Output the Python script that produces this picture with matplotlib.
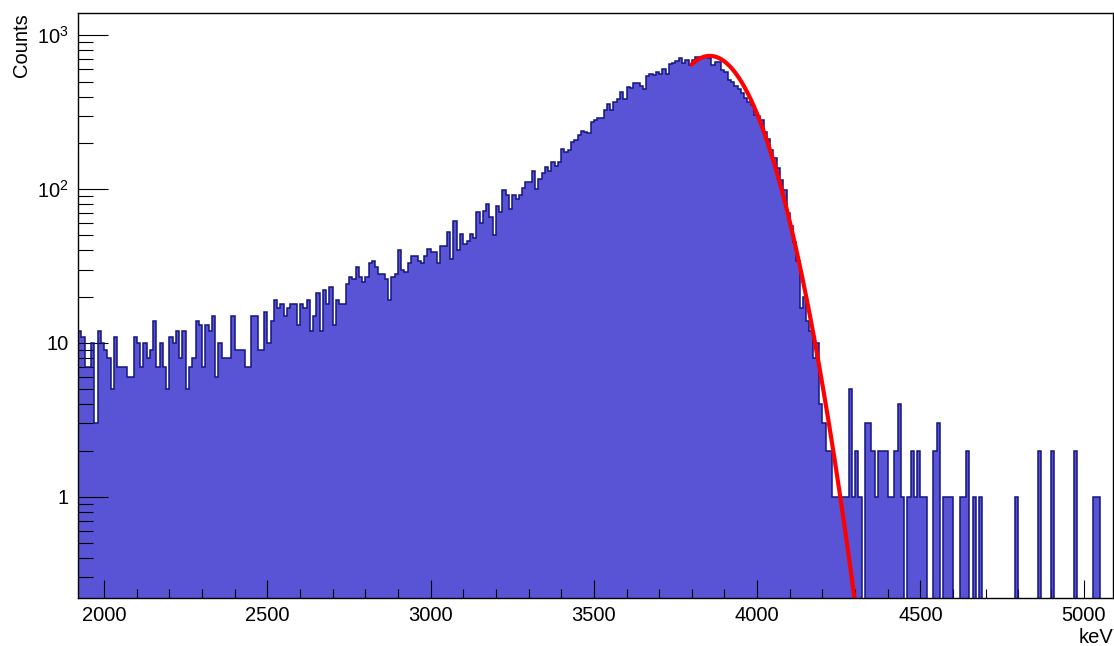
import numpy as np
import matplotlib
matplotlib.use("Agg")
import matplotlib.pyplot as plt
from matplotlib.ticker import MultipleLocator, LogLocator, FixedLocator, FuncFormatter, NullFormatter

plt.rcParams['font.family'] = ['Liberation Sans', 'DejaVu Sans']
plt.rcParams['mathtext.fontset'] = 'custom'
plt.rcParams['mathtext.rm'] = 'Liberation Sans'

# binning of the spectrum (keV)
bin_start = 1920
bin_width = 10
n_bins = 317

# counts per bin
counts_flat = [12, 11, 7, 7, 10, 3, 12, 10, 9, 8, 5, 11, 7, 7, 7, 6, 6, 11, 10, 7,
               10, 8, 9, 14, 7, 10, 7, 5, 11, 10, 12, 8, 12, 5, 7, 8, 14, 13, 7, 13,
               12, 15, 6, 10, 8, 8, 8, 15, 9, 9, 9, 7]
counts_slope = [7, 15, 15, 9, 9, 16, 10, 14, 19, 17, 18, 15, 17, 18, 18, 13, 18, 17, 19, 12,
                15, 21, 12, 22, 18, 23, 13, 19, 18, 18, 24, 27, 26, 31, 27, 25, 27, 33, 34, 31,
                28, 28, 26, 19, 27, 28, 40, 30, 29, 33, 37, 37, 34]
counts_rise = [33, 37, 41, 39, 39, 33, 43, 43, 53, 35, 62, 40, 51, 44, 46, 51, 48, 71, 60, 72,
               80, 66, 50, 78, 71, 98, 92, 74, 92, 86, 92, 101, 111, 111, 132, 100, 116, 127, 140, 132,
               150, 142, 150, 182, 175, 180, 204, 209, 225, 240, 236, 230, 275, 280, 288, 288]
counts_peak = [327, 358, 327, 371, 385, 430, 385, 464, 453, 488, 488, 470, 446, 545, 561, 553, 581, 561, 602, 561,
               651, 664, 681, 709, 664, 692, 641, 692, 726, 720, 726, 731, 709, 641, 672, 672, 594, 580, 513]
counts_edge = [500, 470, 446, 420, 390, 370, 353, 304, 300, 282, 234, 211, 180, 159, 137, 115, 99, 70, 58, 45,
               34, 17, 20, 14, 12, 8, 10, 4, 3, 2, 2]
counts_tail = [1, 1, 1, 1, 1, 5, 1, 2, 1, 0, 3, 3, 2, 1, 2, 2, 2, 1, 1, 2,
               4, 1, 0, 1, 2, 1, 2, 1, 1, 0, 0, 2, 3, 0, 1, 1, 1, 0, 0, 1,
               1, 2, 0, 1, 0, 1, 0, 0, 0, 0, 0, 0, 0, 0, 0, 0, 1, 0, 0, 0,
               0, 0, 0, 2, 0, 0, 0, 2, 0, 0, 0, 0, 0, 0, 2, 0, 0, 0, 0, 0,
               1, 1, 0, 0, 0, 0]

# gaussian fit drawn on top of the peak
fit_amp = 735.0
fit_mean = 3855.0
fit_sigma = 110.0
fit_lo, fit_hi = 3800.0, 4400.0

fill_color = '#5953d6'
edge_color = '#15157e'


def main():
    counts = np.array(counts_flat + counts_slope + counts_rise + counts_peak
                      + counts_edge + counts_tail, dtype=float)
    assert len(counts) == n_bins
    edges = bin_start + bin_width * np.arange(n_bins + 1)

    floor = 1e-3  # empty bins drop below the axis
    vals = np.where(counts > 0, counts, floor)

    fig = plt.figure(figsize=(11.14, 6.46), dpi=100)
    ax = fig.add_axes([78 / 1114, 1 - 598 / 646, (1113 - 78) / 1114, (598 - 13.3) / 646])

    ax.stairs(vals, edges, baseline=floor, fill=True, color=fill_color, lw=0, zorder=1)
    ax.stairs(vals, edges, baseline=floor, color=edge_color, lw=1.1, zorder=2)

    xf = np.linspace(fit_lo, fit_hi, 400)
    yf = fit_amp * np.exp(-0.5 * ((xf - fit_mean) / fit_sigma) ** 2)
    ax.plot(xf, yf, color='#ff0000', lw=3.0, zorder=3)

    ax.set_yscale('log')
    ax.set_xlim(edges[0], edges[-1])
    ax.set_ylim(0.22, 1390)

    # ROOT style ticks: inside, left and bottom only
    ax.xaxis.set_major_locator(MultipleLocator(500))
    ax.xaxis.set_minor_locator(MultipleLocator(100))
    ax.yaxis.set_major_locator(FixedLocator([1, 10, 100, 1000]))
    ax.yaxis.set_minor_locator(LogLocator(base=10, subs=np.arange(2, 10), numticks=30))
    ax.yaxis.set_minor_formatter(NullFormatter())

    def ylab(v, pos):
        e = int(round(np.log10(v)))
        if e == 0:
            return '1'
        if e == 1:
            return '10'
        return r'$\mathregular{10^{%d}}$' % e
    ax.yaxis.set_major_formatter(FuncFormatter(ylab))

    ax.tick_params(axis='both', which='both', direction='in', top=False, right=False,
                   width=0.8, labelsize=14.5)
    ax.tick_params(axis='x', which='major', length=13, pad=6)
    ax.tick_params(axis='x', which='minor', length=6.5)
    ax.tick_params(axis='y', which='major', length=21.6, pad=7)
    ax.tick_params(axis='y', which='minor', length=10.8)

    for sp in ax.spines.values():
        sp.set_linewidth(1.0)
        sp.set_zorder(5)

    fig.text(1113 / 1114, 1 - 643 / 646, 'keV', ha='right', va='baseline', fontsize=14.5)
    fig.text(12 / 1114, 1 - 13 / 646, 'Counts', rotation=90, ha='left', va='top', fontsize=14.5)

    fig.savefig('out.png', dpi=100)


if __name__ == "__main__":
    main()
